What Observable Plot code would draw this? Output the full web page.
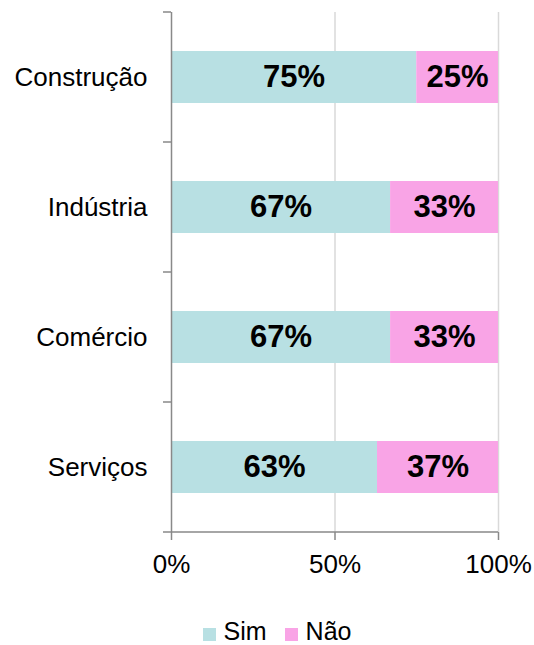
<!DOCTYPE html>
<html><head><meta charset="utf-8">
<script src="https://cdn.jsdelivr.net/npm/d3@7"></script>
<script src="https://cdn.jsdelivr.net/npm/@observablehq/plot@0.6"></script>
<style>
body{margin:0;overflow:hidden;background:#fff;font-family:"Liberation Sans",Arial,sans-serif}
#legend{display:flex;justify-content:center;padding-left:20px;height:24px;line-height:24px;font-size:25px;color:#000;overflow:visible}
#legend .item{display:flex;align-items:baseline;margin:0 9px}
#legend .sw{display:inline-block;width:13px;height:13px;margin-right:8px;position:relative;top:1px}
</style></head>
<body><div id="chart"></div><div id="legend"></div>
<script>
const categories = ["Construção","Indústria","Comércio","Serviços"];
const sim = [75, 67, 67, 63];
const nao = [25, 33, 33, 37];
const series = ["Sim","Não"];
const colors = ["#B8E0E3","#F9A4E6"];
const xTicks = [0, 50, 100];

const data = categories.flatMap((c, i) => [
  {cat: c, series: "Sim", value: sim[i]},
  {cat: c, series: "Não", value: nao[i]}
]);

const plot = Plot.plot({
  width: 534, height: 619,
  marginLeft: 171, marginRight: 36, marginTop: 12, marginBottom: 87,
  style: {fontFamily: '"Liberation Sans", Arial, sans-serif', fontSize: "26px", color: "#000", background: "#fff"},
  x: {domain: [0, 100]},
  y: {domain: categories, paddingInner: 0.6, paddingOuter: 0.3},
  color: {domain: series, range: colors},
  marks: [
    Plot.gridX(xTicks.slice(1), {stroke: "#d9d9d9", strokeOpacity: 1, strokeWidth: 1.5}),
    Plot.barX(data, Plot.stackX({x: "value", y: "cat", fill: "series", order: series})),
    Plot.text(data, Plot.stackX({x: "value", y: "cat", z: "series", order: series,
      text: d => d.value + "%", fontWeight: "bold", fontSize: 31, fill: "#000"})),
    Plot.axisY({tickSize: 0, tickPadding: 24, label: null, fontSize: 26, fill: "#000"}),
    Plot.axisX(xTicks, {tickSize: 8, tickPadding: 14, tickFormat: d => d + "%", label: null,
      stroke: "#898989", strokeWidth: 1.5, fill: "#000", fontSize: 26}),
    Plot.ruleX([0], {stroke: "#898989", strokeWidth: 1.5})
  ]
});
document.getElementById("chart").append(plot);

// category boundary ticks on the left axis and bottom axis line
const ys = plot.scale("y"), xs = plot.scale("x");
const half = (ys.step - ys.bandwidth) / 2;
const x0 = xs.apply(0), x1 = xs.apply(100);
const bounds = categories.map(c => ys.apply(c) - half);
bounds.push(ys.apply(categories[categories.length - 1]) + ys.bandwidth + half);
const g = d3.select(plot).append("g").attr("stroke", "#898989").attr("stroke-width", 1.5);
bounds.forEach((b, i) => {
  g.append("line").attr("x1", x0 - 8).attr("x2", i === bounds.length - 1 ? x1 : x0)
    .attr("y1", b).attr("y2", b);
});

const leg = d3.select("#legend");
series.forEach((s, i) => {
  const it = leg.append("div").attr("class", "item");
  it.append("span").attr("class", "sw").style("background", colors[i]);
  it.append("span").text(s);
});
</script>
</body></html>
